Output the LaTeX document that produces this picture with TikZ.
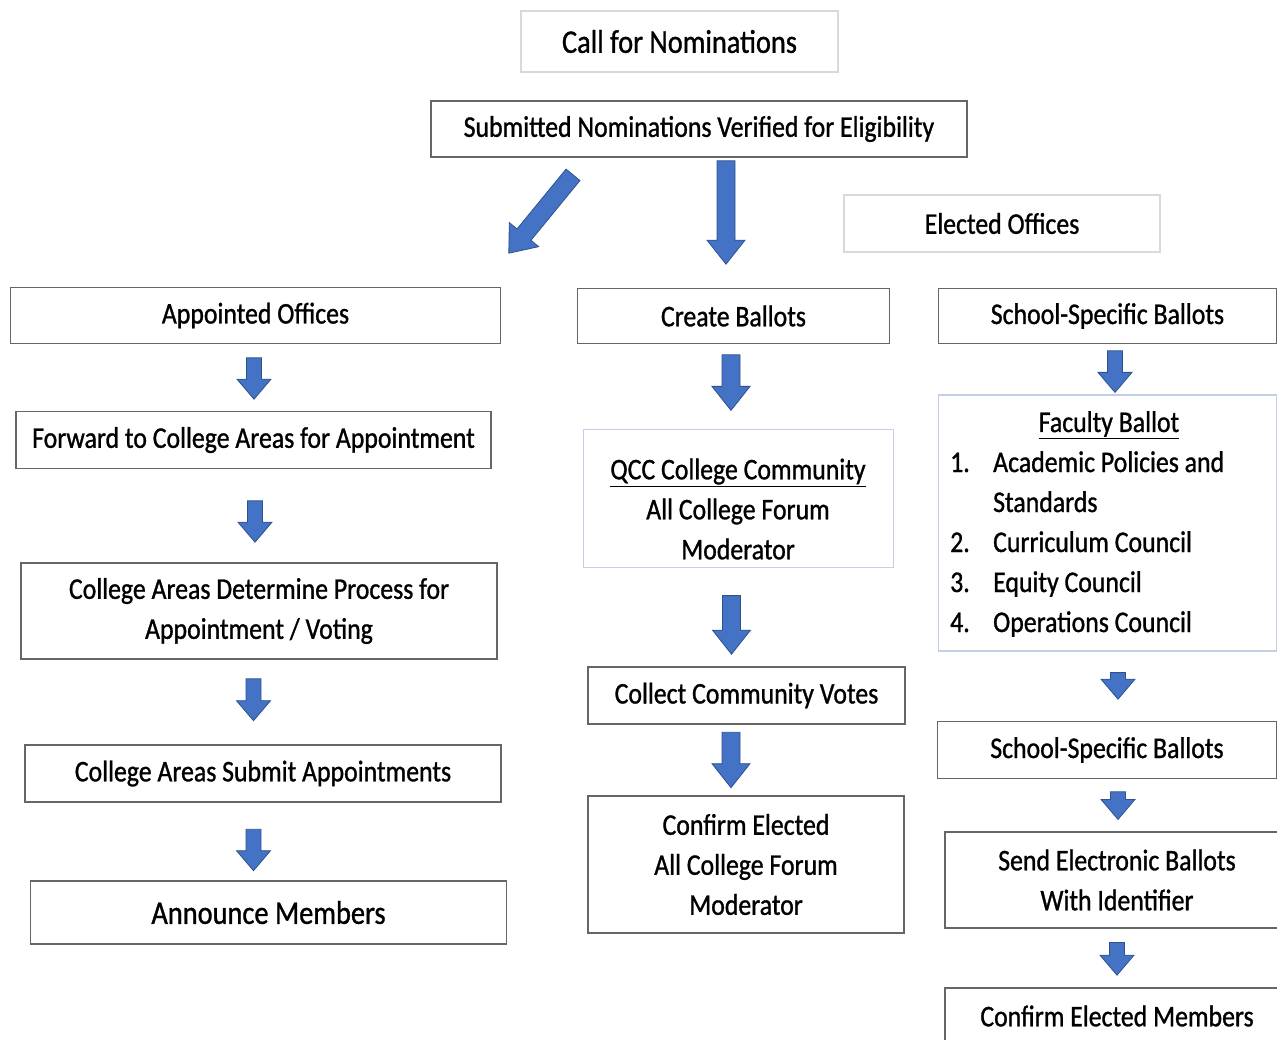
\documentclass[tikz,border=0pt]{standalone}
\usepackage{fontspec}
\setmainfont[FakeStretch=0.86,FakeBold=1]{Carlito}
\usepackage{tikz}
\usetikzlibrary{calc}
\definecolor{boxline}{HTML}{666666}
\definecolor{paleline}{HTML}{D9D9D9}
\definecolor{blueline}{HTML}{C3CFE4}
\definecolor{arrowfill}{HTML}{4472C4}
\definecolor{arrowline}{HTML}{2F528F}
\tikzstyle{stepbox}=[draw=boxline,line width=1.6,fill=white,inner sep=0pt,align=center]
\tikzstyle{palebox}=[stepbox,draw=paleline]
\tikzstyle{listbox}=[stepbox,draw=blueline,line width=1.2]
\tikzstyle{bigtext}=[font=\fontsize{33}{40}\selectfont]
\tikzset{blockarrow/.style n args={3}{draw=arrowline,fill=arrowfill,line width=0.8,
  to path={($(\tikztostart)!#1!90:(\tikztotarget)$)
    -- ($(\tikztotarget)!#3!(\tikztostart)!#1!-90:(\tikztostart)$)
    -- ($(\tikztotarget)!#3!(\tikztostart)!#2!-90:(\tikztostart)$)
    -- (\tikztotarget)
    -- ($(\tikztotarget)!#3!(\tikztostart)!#2!90:(\tikztostart)$)
    -- ($(\tikztotarget)!#3!(\tikztostart)!#1!90:(\tikztostart)$)
    -- ($(\tikztostart)!#1!-90:(\tikztotarget)$) -- cycle}}}
\tikzstyle{bigarrow}=[blockarrow={9pt}{19pt}{24pt}]
\tikzstyle{smallarrow}=[blockarrow={7.5pt}{17pt}{20pt}]
\newcommand{\itemno}[1]{\makebox[43pt][l]{#1}}

\begin{document}
\begin{tikzpicture}[x=1pt,y=-1pt,font=\fontsize{30}{40}\selectfont]
\useasboundingbox (0,0) rectangle (1277,1040);
% top
\node[palebox,bigtext,minimum width=317,minimum height=61] (call) at (679.5,41.5) {Call for Nominations};
\node[stepbox,minimum width=536,minimum height=56] (verify) at (699,129) {Submitted Nominations Verified for Eligibility};
\node[palebox,minimum width=316,minimum height=57] (elected) at (1002,223.5) {Elected Offices};
% appointed offices
\node[stepbox,minimum width=490,minimum height=56] (appt) at (255.5,315.5) {Appointed Offices};
\node[stepbox,minimum width=475,minimum height=57] (fwd) at (253.5,440) {Forward to College Areas for Appointment};
\node[stepbox,minimum width=476,minimum height=96] (determine) at (259,611) {College Areas Determine Process for\\Appointment / Voting};
\node[stepbox,minimum width=476,minimum height=57] (submit) at (263,773.5) {College Areas Submit Appointments};
\node[stepbox,bigtext,minimum width=476,minimum height=63] (announce) at (268.5,912.5) {Announce Members};
% community ballot
\node[stepbox,minimum width=312,minimum height=55] (create) at (733.5,316) {Create Ballots};
\node[listbox,minimum width=310,minimum height=138] (qcc) at (738.5,498.5) {};
\node[align=center] (qcctext) at (738,509) {\underline{QCC College Community}\\All College Forum\\Moderator};
\node[stepbox,minimum width=317,minimum height=57] (collect) at (746.5,695.5) {Collect Community Votes};
\node[stepbox,minimum width=316,minimum height=137] (confirm) at (746,864.5) {Confirm Elected\\All College Forum\\Moderator};
% school ballots
\node[stepbox,minimum width=338,minimum height=55] (ssb) at (1107.5,316) {School-Specific Ballots};
\node[listbox,minimum width=338,minimum height=256] (faculty) at (1107.5,523) {};
\node (facultytitle) at (1109,425) {\underline{Faculty Ballot}};
\node[align=left,anchor=west,inner sep=0pt] (councils) at (950,544) {\itemno{1.}Academic Policies and\\\itemno{}Standards\\\itemno{2.}Curriculum Council\\\itemno{3.}Equity Council\\\itemno{4.}Operations Council};
\node[stepbox,minimum width=339,minimum height=57] (ssbb) at (1107,750) {School-Specific Ballots};
\node[stepbox,minimum width=344,minimum height=96] (send) at (1117,880) {Send Electronic Ballots\\With Identifier};
\node[stepbox,minimum width=344,minimum height=56] (members) at (1117,1016) {Confirm Elected Members};
% arrows
\draw[bigarrow] ($(verify.south)+(-126,17)$) to ($(appt.north east)+(7.5,-33.5)$);
\draw[bigarrow] ($(verify.south)+(27,3)$) to ($(create.north)+(-7.5,-23.5)$);
\draw[smallarrow] ($(appt.south)+(-1.5,13.5)$) to ($(fwd.north)+(0.5,-11.5)$);
\draw[smallarrow] ($(fwd.south)+(1.5,31.5)$) to ($(determine.north)+(-4,-20)$);
\draw[smallarrow] ($(determine.south)+(-5.5,19)$) to ($(submit.north)+(-9.5,-23.5)$);
\draw[smallarrow] ($(submit.south)+(-9.5,26.5)$) to ($(announce.north)+(-15,-9.5)$);
\draw[bigarrow] ($(create.south)+(-2.5,10.5)$) to ($(qcc.north)+(-7.5,-18.5)$);
\draw[bigarrow] ($(qcc.south)+(-7,27.5)$) to ($(collect.north)+(-15,-12)$);
\draw[bigarrow] ($(collect.south)+(-15.5,7.5)$) to ($(confirm.north)+(-15,-7.5)$);
\draw[smallarrow] ($(ssb.south)+(7.5,6.5)$) to ($(faculty.north)+(7.5,-2)$);
\draw[smallarrow] ($(faculty.south)+(10.5,21)$) to ($(ssbb.north)+(11,-21.5)$);
\draw[smallarrow] ($(ssbb.south)+(11,12.5)$) to ($(send.north)+(1,-11.75)$);
\draw[smallarrow] ($(send.south)+(0,13.75)$) to ($(members.north)+(0,-12)$);
\end{tikzpicture}
\end{document}
